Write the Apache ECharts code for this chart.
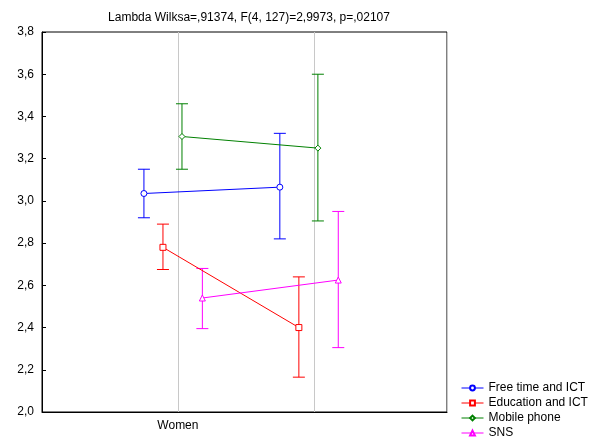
<!DOCTYPE html>
<html>
<head>
<meta charset="utf-8">
<script src="https://cdn.jsdelivr.net/npm/echarts@6/dist/echarts.min.js"></script>
<style>html,body{margin:0;padding:0;background:#fff}#chart{width:595px;height:444px}</style>
</head>
<body>
<div id="chart"></div>
<script>
const groups = ['Women', 'Man'];
const seriesNames = ['Free time and ICT', 'Education and ICT', 'Mobile phone', 'SNS'];
const colors = ['#0000ff', '#ff0000', '#008000', '#ff00ff'];
const symbols = ['circle', 'rect', 'diamond', 'triangle'];
const offsets = [-0.23, -0.09, 0.05, 0.2];
const means = [[3.035, 3.065], [2.78, 2.40], [3.305, 3.25], [2.54, 2.625]];
const lower = [[2.92, 2.82], [2.675, 2.165], [3.15, 2.905], [2.395, 2.305]];
const upper = [[3.15, 3.32], [2.89, 2.64], [3.46, 3.60], [2.68, 2.95]];

const font = 'Arial, "Liberation Sans", sans-serif';
const series = [];
seriesNames.forEach((name, s) => {
    series.push({
        name: name,
        type: 'line',
        data: groups.map((g, i) => [i + 1 + offsets[s], means[s][i]]),
        symbol: symbols[s],
        symbolSize: 6,
        itemStyle: { color: '#fff', borderColor: colors[s], borderWidth: 1 },
        lineStyle: { color: colors[s], width: 1 },
        z: 3
    });
    series.push({
        type: 'custom',
        data: groups.map((g, i) => [i + 1 + offsets[s], lower[s][i], upper[s][i]]),
        renderItem: (params, api) => {
            const lo = api.coord([api.value(0), api.value(1)]);
            const hi = api.coord([api.value(0), api.value(2)]);
            const w = 6;
            const st = { stroke: colors[s], lineWidth: 1 };
            return { type: 'group', children: [
                { type: 'line', shape: { x1: lo[0], y1: lo[1], x2: hi[0], y2: hi[1] }, style: st },
                { type: 'line', shape: { x1: lo[0] - w, y1: lo[1], x2: lo[0] + w, y2: lo[1] }, style: st },
                { type: 'line', shape: { x1: hi[0] - w, y1: hi[1], x2: hi[0] + w, y2: hi[1] }, style: st }
            ] };
        },
        z: 2
    });
});

const chart = echarts.init(document.getElementById('chart'));
chart.setOption({
    animation: false,
    title: {
        text: 'Lambda Wilksa=,91374, F(4, 127)=2,9973, p=,02107',
        left: 244, top: 7, textAlign: 'center',
        textStyle: { fontFamily: font, fontSize: 12, fontWeight: 'normal', color: '#000' }
    },
    legend: {
        data: seriesNames,
        orient: 'vertical',
        left: 456, top: 377,
        itemGap: 3, itemWidth: 22, itemHeight: 6,
        lineStyle: { width: 1 },
        textStyle: { fontFamily: font, fontSize: 12, color: '#000' }
    },
    grid: { left: 42, right: 148, top: 32, bottom: 32, show: true, borderColor: '#000', borderWidth: 1 },
    xAxis: {
        type: 'value', min: 0.02, max: 3, interval: 1,
        axisLine: { lineStyle: { color: '#000' } },
        axisTick: { show: false },
        splitLine: { show: true, lineStyle: { color: '#c8c8c8' } },
        axisLabel: {
            fontFamily: font, fontSize: 12, color: '#000',
            formatter: v => (v >= 1 && v <= 2) ? groups[Math.round(v) - 1] : ''
        }
    },
    yAxis: {
        type: 'value', min: 2.0, max: 3.8, interval: 0.2,
        axisLine: { show: true, lineStyle: { color: '#000' } },
        axisTick: { show: true, inside: true, length: 4 },
        splitLine: { show: false },
        axisLabel: {
            fontFamily: font, fontSize: 12, color: '#000',
            formatter: v => v.toFixed(1).replace('.', ',')
        }
    },
    series: series
});
</script>
</body>
</html>
